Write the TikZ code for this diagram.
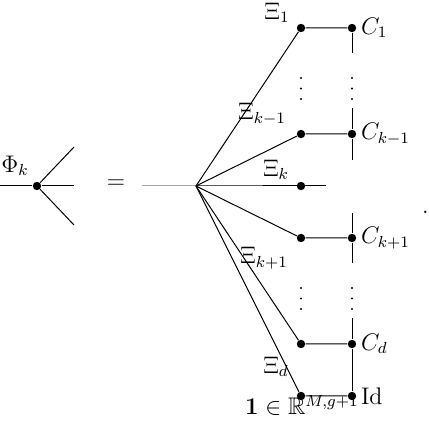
\documentclass[tikz,border=0pt]{standalone}
\usepackage{amsmath,amssymb}
\usepackage{tikz}
\usetikzlibrary{positioning,calc}
\tikzset{
  % contraction vertex
  tdot/.style={circle, fill=black, inner sep=0pt, minimum size=4.2pt},
  % small dot of a vertical ellipsis
  edot/.style={circle, fill=black, inner sep=0pt, minimum size=1.1pt},
  % tensor leg
  leg/.style={line width=0.5pt},
  % leg label
  xilab/.style={inner sep=1pt},
  % core label to the right
  corelab/.style={anchor=west, inner sep=2pt},
}

\begin{document}
\begin{tikzpicture}[x=0.5pt,y=-0.5pt,every node/.append style={font=\large}]
  \useasboundingbox (0,0) rectangle (429,427);

  % left-hand side: the vertex Phi_k
  \node[tdot] (phi) at (37,186) {};
  \coordinate (pin) at (0,186);
  \coordinate (pout) at (74,186);
  \coordinate (pup) at (74,147);
  \coordinate (pdn) at (74,225);
  \draw[leg] (pin) -- (phi) -- (pout);
  \draw[leg] (phi) -- (pup);
  \draw[leg] (phi) -- (pdn);
  \node (philab) at (15,166) {$\Phi_k$};

  \node (eq) at (116,184) {$=$};

  % right-hand side: the root and its branches
  \coordinate (rin) at (142,186);
  \coordinate (root) at (196,186);
  \coordinate (rout) at (326,186);
  \node[tdot] (bk) at (301,186) {};
  \draw[leg] (rin) -- (root) -- (rout);

  \foreach \n/\y in {1/28, km/134, kp/238, d/344, id/396} {
    \node[tdot] (b\n) at (301,\y) {};
    \node[tdot] (c\n) at (352,\y) {};
    \draw[leg] (root) -- (b\n) -- (c\n);
  }

  % the core chain
  \coordinate (v1) at (352,53);
  \coordinate (v2a) at (352,108);
  \coordinate (v2b) at (352,160);
  \coordinate (v3a) at (352,213);
  \coordinate (v3b) at (352,263);
  \coordinate (v4a) at (352,318);
  \draw[leg] (c1) -- (v1);
  \draw[leg] (v2a) -- (ckm) -- (v2b);
  \draw[leg] (v3a) -- (ckp) -- (v3b);
  \draw[leg] (v4a) -- (cd) -- (cid);

  % vertical ellipses
  \foreach \x in {301,352}
    \foreach \y in {78,88.5,99,288,298.5,309}
      \node[edot] at (\x,\y) {};

  % labels
  \node[xilab] (x1) at (277,13) {$\Xi_1$};
  \node[xilab] (xkm) at (262,114) {$\Xi_{k-1}$};
  \node[xilab] (xk) at (276,170) {$\Xi_k$};
  \node[xilab] (xkp) at (264,258) {$\Xi_{k+1}$};
  \node[xilab] (xd) at (276,367) {$\Xi_d$};

  \node[corelab] (l1) at (c1.east) {$C_1$};
  \node[corelab] (lkm) at (ckm.east) {$C_{k-1}$};
  \node[corelab] (lkp) at (ckp.east) {$C_{k+1}$};
  \node[corelab] (ld) at (cd.east) {$C_d$};
  \node[corelab] (lid) at (cid.east) {Id};
  \node[anchor=base east, inner sep=0pt] (one) at (359,415) {$\mathbf{1}\in\mathbb{R}^{M,g+1}$};
  \node[anchor=east, inner sep=0pt] (per) at (429,212) {.};
\end{tikzpicture}
\end{document}
